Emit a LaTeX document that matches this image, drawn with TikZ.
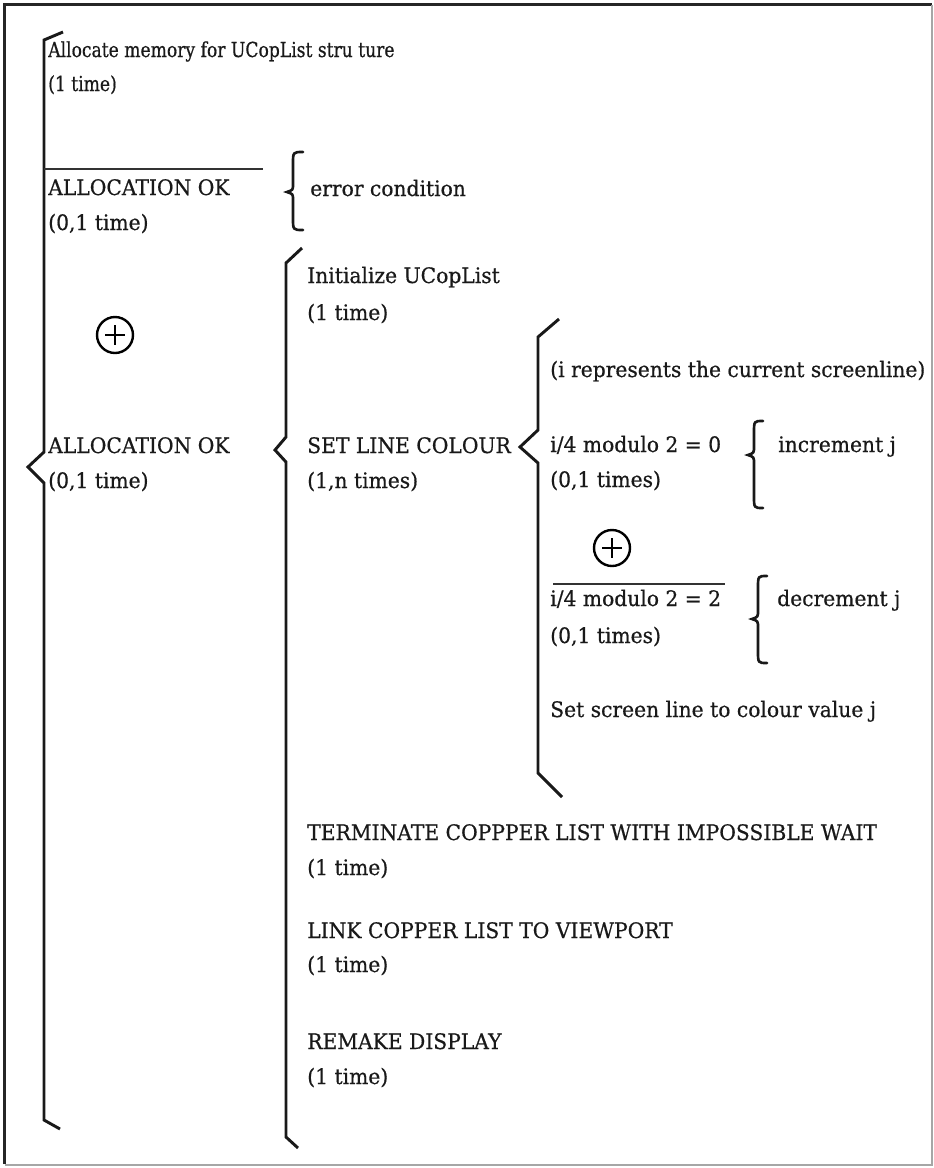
\documentclass[tikz,border=0pt]{standalone}
\usepackage{fontspec}
\setmainfont{DejaVu Serif}[FakeStretch=0.95,FakeBold=0.6]
\newfontfamily\narrowserif{DejaVu Serif}[FakeStretch=0.83,FakeBold=0.6]
\begin{document}
\begin{tikzpicture}[x=0.75pt,y=-0.75pt,
  txt/.style={anchor=base west,inner sep=0pt,font=\fontsize{16}{19}\selectfont,text=black!90},
  smalltxt/.style={txt,font=\narrowserif\fontsize{15.5}{18}\selectfont},
  bar/.style={line width=2.2pt,line join=miter,black!90},
  curly/.style={line width=2pt,line cap=round,black!90},
  rule/.style={line width=2.2pt,black!80},
  oplus/.style={circle,draw,line width=1.8pt,minimum size=27pt,inner sep=0pt}]
\useasboundingbox (0,0) rectangle (934,1168);
% page frame
\draw[line width=2.4pt,black!85] (4.5,1164) -- (4.5,4.5) -- (932,4.5);
\draw[line width=1.6pt,black!35] (4.5,1165) -- (932,1165) -- (932,4.5);

% outer sequence bracket
\draw[bar] (63,32) -- (44,40) -- (44,452) -- (28,467) -- (44,483) -- (44,1120) -- (60,1129);
\draw[rule] (44,169) -- (263,169);

\node[smalltxt] (alloc) at (48,57) {Allocate memory for UCopList stru ture};
\node[smalltxt] (alloct) at (48,91) {(1 time)};
\node[txt] (ok1) at (48,195) {ALLOCATION OK};
\node[txt] (ok1t) at (48,230) {(0,1 time)};
\node[oplus] (orA) at (115,335) {};
\draw[line width=1.8pt] (orA.center) ++(-10,0) -- ++(20,0) (orA.center) ++(0,-10) -- ++(0,20);
\node[txt] (ok2) at (48,453) {ALLOCATION OK};
\node[txt] (ok2t) at (48,488) {(0,1 time)};

% error branch brace
\draw[curly] (303,152) .. controls (293,152) .. (293,164) -- (293,184)
  .. controls (293,190) .. (287,192) .. controls (293,194) .. (293,200) -- (293,218)
  .. controls (293,230) .. (303,230);
\node[txt] (err) at (310,196) {error condition};

% middle sequence bracket
\draw[bar] (302,248) -- (286,263) -- (286,437) -- (275,450) -- (286,462) -- (286,1137) -- (298,1148);

\node[txt] (init) at (307,283) {Initialize UCopList};
\node[txt] (initt) at (307,320) {(1 time)};
\node[txt] (slc) at (307,453) {SET LINE COLOUR};
\node[txt] (slct) at (307,488) {(1,n times)};
\node[txt] (term) at (307,840) {TERMINATE COPPPER LIST WITH IMPOSSIBLE WAIT};
\node[txt] (termt) at (307,875) {(1 time)};
\node[txt] (link) at (307,938) {LINK COPPER LIST TO VIEWPORT};
\node[txt] (linkt) at (307,972) {(1 time)};
\node[txt] (remk) at (307,1049) {REMAKE DISPLAY};
\node[txt] (remkt) at (307,1084) {(1 time)};

% inner iteration bracket
\draw[bar] (559,319) -- (538,337) -- (538,430) -- (520,447) -- (538,463) -- (538,773) -- (562,797);

\node[txt] (note) at (550,377) {(i represents the current screenline)};
\node[txt] (mod0) at (550,452) {i/4 modulo 2 = 0};
\node[txt] (mod0t) at (550,487) {(0,1 times)};
\draw[curly] (763,421) .. controls (754,421) .. (754,433) -- (754,446)
  .. controls (754,453) .. (748,455) .. controls (754,457) .. (754,464) -- (754,496)
  .. controls (754,508) .. (763,508);
\node[txt] (inc) at (778,452) {increment j};

\node[oplus] (orB) at (612,548) {};
\draw[line width=1.8pt] (orB.center) ++(-10,0) -- ++(20,0) (orB.center) ++(0,-10) -- ++(0,20);

\draw[rule] (553,584) -- (725,584);
\node[txt] (mod2) at (550,606) {i/4 modulo 2 = 2};
\node[txt] (mod2t) at (550,643) {(0,1 times)};
\draw[curly] (767,576) .. controls (758,576) .. (758,588) -- (758,610)
  .. controls (758,617) .. (752,619) .. controls (758,621) .. (758,628) -- (758,651)
  .. controls (758,663) .. (767,663);
\node[txt] (dec) at (777,606) {decrement j};

\node[txt] (setv) at (550,717) {Set screen line to colour value j};
\end{tikzpicture}
\end{document}
